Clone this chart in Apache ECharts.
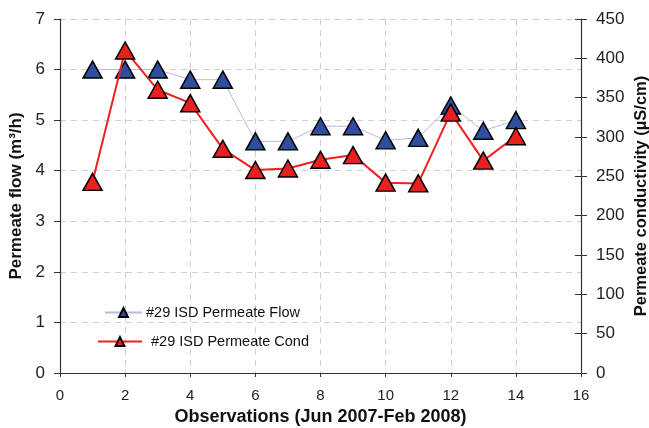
<!DOCTYPE html>
<html>
<head>
<meta charset="utf-8">
<script src="https://cdn.jsdelivr.net/npm/echarts@6/dist/echarts.min.js"></script>
<style>
  html, body { margin: 0; padding: 0; background: #fff; }
  #chart { width: 649px; height: 428px; }
</style>
</head>
<body>
<div id="chart"></div>
<script>
// Observation numbers and measured values
const observations = [1, 2, 3, 4, 5, 6, 7, 8, 9, 10, 11, 12, 13, 14];
const permeateFlow = [6.0, 6.0, 6.0, 5.8, 5.8, 4.58, 4.58, 4.88, 4.88, 4.6, 4.65, 5.29, 4.79, 5.0];
const permeateCond = [243, 410, 360, 343, 285, 258, 260, 271, 277, 242, 241, 331, 270, 301];
const flowName = '#29 ISD Permeate Flow';
const condName = '#29 ISD Permeate Cond';

const font = 'Liberation Sans, Arial, sans-serif';
const pairs = (ys) => observations.map((x, i) => [x, ys[i]]);

const chart = echarts.init(document.getElementById('chart'), null, { renderer: 'canvas' });

const gridLine = { show: true, lineStyle: { color: '#cfcfcf', type: [6, 5], width: 1 } };
const axisLine = { show: true, lineStyle: { color: '#333', width: 1.2 } };
const axisTick = { show: true, length: 6, lineStyle: { color: '#333' } };
const yLabel = { color: '#222', fontSize: 17, fontFamily: font, margin: 15 };
const nameStyle = { color: '#111', fontSize: 17, fontWeight: 'bold', fontFamily: font };
const legendText = { color: '#111', fontSize: 14.5, fontFamily: font };

chart.setOption({
  animation: false,
  backgroundColor: '#fff',
  grid: { left: 60, right: 68, top: 19, bottom: 55, containLabel: false, outerBoundsMode: 'none' },
  legend: [
    {
      data: [flowName], orient: 'vertical', left: 99, top: 300,
      itemWidth: 37, itemHeight: 11,
      textStyle: Object.assign({}, legendText, { padding: [0, 0, 0, -1] })
    },
    {
      data: [condName], orient: 'vertical', left: 92, top: 329,
      itemWidth: 44, itemHeight: 11,
      textStyle: Object.assign({}, legendText, { padding: [0, 0, 0, 4] })
    }
  ],
  xAxis: {
    type: 'value', min: 0, max: 16, interval: 2,
    name: 'Observations (Jun 2007-Feb 2008)', nameLocation: 'middle', nameGap: 30,
    nameTextStyle: Object.assign({}, nameStyle, { fontSize: 18 }),
    axisLine, axisTick: { show: true, length: 4, lineStyle: { color: '#333' } },
    axisLabel: { color: '#222', fontSize: 15, fontFamily: font, margin: 15 },
    splitLine: gridLine
  },
  yAxis: [
    {
      type: 'value', min: 0, max: 7, interval: 1,
      name: 'Permeate flow (m³/h)', nameLocation: 'middle', nameGap: 35,
      nameTextStyle: nameStyle,
      axisLine, axisTick, axisLabel: yLabel,
      splitLine: gridLine
    },
    {
      type: 'value', min: 0, max: 450, interval: 50, position: 'right',
      name: 'Permeate conductivity (µS/cm)', nameLocation: 'middle', nameGap: 52,
      nameMoveOverlap: false,
      nameTextStyle: Object.assign({}, nameStyle, { fontSize: 16.5 }),
      axisLine, axisTick, axisLabel: yLabel,
      splitLine: { show: false }
    },
    {
      // inner half of the right-hand ticks, so they cross the axis line
      type: 'value', min: 0, max: 450, interval: 50, position: 'right',
      axisLine: { show: false },
      axisTick: { show: true, inside: true, length: 6, lineStyle: { color: '#333' } },
      axisLabel: { show: false }, splitLine: { show: false }
    }
  ],
  series: [
    {
      name: flowName, type: 'line', yAxisIndex: 0,
      data: pairs(permeateFlow),
      symbol: 'triangle', symbolSize: [19, 17],
      lineStyle: { color: '#b8b8e0', width: 1 },
      itemStyle: { color: '#2f4f9e', borderColor: '#000', borderWidth: 1.5 },
      z: 3
    },
    {
      name: condName, type: 'line', yAxisIndex: 1,
      data: pairs(permeateCond),
      symbol: 'triangle', symbolSize: [19, 17],
      lineStyle: { color: '#f02020', width: 2 },
      itemStyle: { color: '#e8201e', borderColor: '#000', borderWidth: 1.5 },
      z: 4
    }
  ]
});
</script>
</body>
</html>
